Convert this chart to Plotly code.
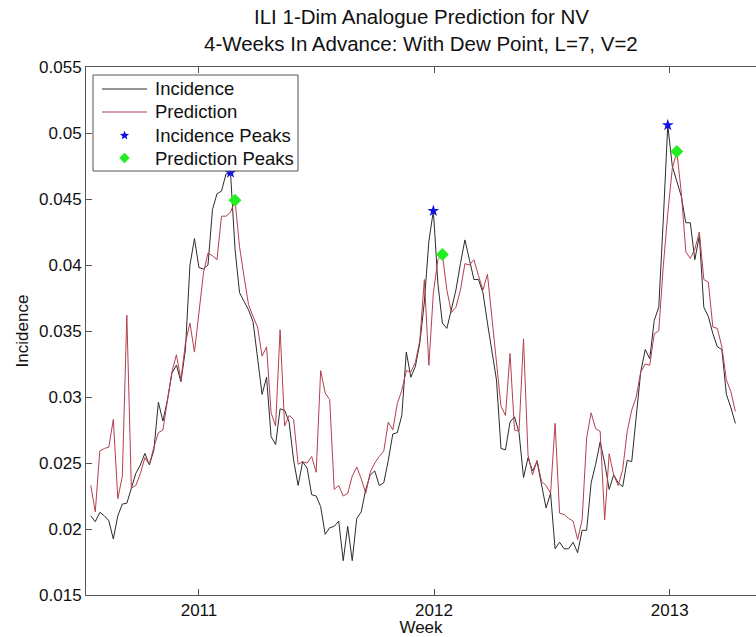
import math
import pandas as pd
import plotly.graph_objects as go

# Weekly ILI incidence for NV and the 4-week-ahead analogue prediction
week_start = "2010-07-17"

incidence = [
    0.0210, 0.02055, 0.02126, 0.0210, 0.02063, 0.01924, 0.0210, 0.02189, 0.02195, 0.02308,
    0.02422, 0.02485, 0.02573, 0.02485, 0.02598, 0.0296, 0.02818, 0.02977, 0.0318, 0.03242,
    0.03116, 0.0336, 0.0400, 0.0420, 0.0398, 0.0397, 0.0400, 0.0442, 0.0454, 0.0456,
    0.0469, 0.0470, 0.0412, 0.0379, 0.0372, 0.0366, 0.0357, 0.0331, 0.0302, 0.0315,
    0.0270, 0.0264, 0.0291, 0.0290, 0.0281, 0.0252, 0.0233, 0.0251, 0.0246, 0.0226,
    0.0225, 0.0217, 0.0196, 0.0201, 0.0202, 0.0206, 0.0176, 0.0202, 0.0176, 0.0208,
    0.0213, 0.0230, 0.0241, 0.0244, 0.0233, 0.0235, 0.0252, 0.0272, 0.0273, 0.0286,
    0.0334, 0.0315, 0.0323, 0.0341, 0.0372, 0.0418, 0.0441, 0.0386, 0.0356, 0.0352,
    0.0366, 0.0381, 0.0401, 0.0419, 0.0404, 0.0389, 0.0389, 0.0379, 0.0356, 0.0336,
    0.0313, 0.0261, 0.0260, 0.0281, 0.0285, 0.0273, 0.0239, 0.0254, 0.0244, 0.0251,
    0.0232, 0.0216, 0.0227, 0.0185, 0.0190, 0.0185, 0.0185, 0.0190, 0.0182, 0.0199,
    0.0199, 0.0235, 0.0249, 0.0266, 0.0250, 0.0230, 0.0241, 0.0235, 0.0232, 0.0252,
    0.0251, 0.0288, 0.0319, 0.0336, 0.0329, 0.0358, 0.0368, 0.0434, 0.0506, 0.0475,
    0.0464, 0.0452, 0.0432, 0.0432, 0.0404, 0.0422, 0.0368, 0.0361, 0.0348, 0.0338,
    0.0336, 0.0302, 0.0292, 0.0280,
]

prediction = [
    0.0233, 0.0213, 0.0259, 0.0261, 0.0262, 0.0283, 0.0223, 0.0240, 0.0362, 0.0231,
    0.0233, 0.0242, 0.0254, 0.0249, 0.0262, 0.0273, 0.0275, 0.0298, 0.0319, 0.0332,
    0.0313, 0.0341, 0.0356, 0.0334, 0.0366, 0.0394, 0.0409, 0.0407, 0.0404, 0.0437,
    0.0437, 0.0440, 0.0449, 0.0414, 0.0391, 0.0370, 0.0361, 0.0353, 0.0331, 0.0338,
    0.0288, 0.0278, 0.0351, 0.0278, 0.0286, 0.0283, 0.0249, 0.0251, 0.0250, 0.0255,
    0.0243, 0.0320, 0.0303, 0.0298, 0.0230, 0.0233, 0.0225, 0.0227, 0.0240, 0.0247,
    0.0238, 0.0227, 0.0243, 0.0250, 0.0255, 0.0259, 0.0281, 0.0275, 0.0295, 0.0305,
    0.0320, 0.0319, 0.0326, 0.0343, 0.0389, 0.0324, 0.0379, 0.0404, 0.0408, 0.0381,
    0.0364, 0.0368, 0.0381, 0.0401, 0.0400, 0.0404, 0.0392, 0.0381, 0.0393, 0.0361,
    0.0326, 0.0293, 0.0286, 0.0333, 0.0275, 0.0274, 0.0344, 0.0256, 0.0241, 0.0252,
    0.0236, 0.0233, 0.0227, 0.0280, 0.0212, 0.0211, 0.0208, 0.0206, 0.0192, 0.0207,
    0.0269, 0.0288, 0.0276, 0.0274, 0.0207, 0.0257, 0.0241, 0.0233, 0.0245, 0.0274,
    0.0290, 0.0300, 0.0319, 0.0325, 0.0324, 0.0348, 0.0350, 0.0399, 0.0439, 0.0473,
    0.0486, 0.0455, 0.0410, 0.0405, 0.0412, 0.0425, 0.0389, 0.0387, 0.0353, 0.0352,
    0.0338, 0.0313, 0.0304, 0.0289,
]

# Week indices of the seasonal maxima
incidence_peak_weeks = [31, 76, 128]
prediction_peak_weeks = [32, 78, 130]

y_ticks = [0.015, 0.02, 0.025, 0.03, 0.035, 0.04, 0.045, 0.05, 0.055]
y_tick_labels = ["0.015", "0.02", "0.025", "0.03", "0.035", "0.04", "0.045", "0.05", "0.055"]
x_tick_dates = ["2011-01-01", "2012-01-01", "2013-01-01"]
x_tick_labels = ["2011", "2012", "2013"]

series_names = ["Incidence", "Prediction", "Incidence Peaks", "Prediction Peaks"]
title_lines = ["ILI 1-Dim Analogue Prediction for NV",
               "4-Weeks In Advance: With Dew Point, L=7, V=2"]

# ---- styling / layout geometry (pixels) ----
W, H = 756, 637
M_L, M_R, M_T, M_B = 86, 0, 67, 42
PLOT_W = W - M_L - M_R
PLOT_H = H - M_T - M_B

FONT = "Liberation Sans, Arial, sans-serif"
TEXT = "#111111"
AXIS = "#555555"
C_INC = "#2b2b2b"
C_PRED = "#b5404f"
C_STAR = "#1010e0"
C_DIAM = "#22ee22"


def px_x(px):
    return (px - M_L) / PLOT_W


def px_y(py):
    return 1 - (py - M_T) / PLOT_H


weeks = pd.date_range(week_start, periods=len(incidence), freq="7D")

fig = go.Figure()
fig.add_trace(go.Scatter(
    x=weeks, y=incidence, mode="lines", name=series_names[0],
    line=dict(color=C_INC, width=1), showlegend=False,
))
fig.add_trace(go.Scatter(
    x=weeks, y=prediction, mode="lines", name=series_names[1],
    line=dict(color=C_PRED, width=1), showlegend=False,
))
fig.add_trace(go.Scatter(
    x=[weeks[i] for i in incidence_peak_weeks],
    y=[incidence[i] for i in incidence_peak_weeks],
    mode="markers", name=series_names[2], showlegend=False,
    marker=dict(symbol="star", color=C_STAR, size=9, line=dict(width=0)),
))
fig.add_trace(go.Scatter(
    x=[weeks[i] for i in prediction_peak_weeks],
    y=[prediction[i] for i in prediction_peak_weeks],
    mode="markers", name=series_names[3], showlegend=False,
    marker=dict(symbol="diamond", color=C_DIAM, size=10, line=dict(width=0)),
))

# ---- boxed legend in the upper-left corner of the axes ----
LEG_X0, LEG_X1, LEG_Y0, LEG_Y1 = 93, 298, 75, 171
ROW_Y = [89, 112, 135.5, 158]
SAMPLE_X0, SAMPLE_X1, TEXT_X = 102, 147, 153
SAMPLE_XC = (SAMPLE_X0 + SAMPLE_X1) / 2

shapes = [dict(
    type="rect", xref="paper", yref="paper", layer="above",
    x0=px_x(LEG_X0), x1=px_x(LEG_X1), y0=px_y(LEG_Y1), y1=px_y(LEG_Y0),
    line=dict(color=AXIS, width=1), fillcolor="white",
)]
for row, color in zip(ROW_Y[:2], [C_INC, C_PRED]):
    shapes.append(dict(
        type="line", xref="paper", yref="paper", layer="above",
        x0=px_x(SAMPLE_X0), x1=px_x(SAMPLE_X1), y0=px_y(row), y1=px_y(row),
        line=dict(color=color, width=1),
    ))


def star_path(r_out, r_in):
    pts = []
    for k in range(10):
        r = r_out if k % 2 == 0 else r_in
        a = math.pi / 2 + k * math.pi / 5
        pts.append((r * math.cos(a), r * math.sin(a)))
    return "M " + " L ".join(f"{x:.2f},{y:.2f}" for x, y in pts) + " Z"


def diamond_path(r):
    return f"M 0,{r} L {r},0 L 0,{-r} L {-r},0 Z"


for row, path, color in [(ROW_Y[2], star_path(4.8, 2.1), C_STAR),
                         (ROW_Y[3], diamond_path(5.2), C_DIAM)]:
    shapes.append(dict(
        type="path", xref="paper", yref="paper", layer="above",
        xsizemode="pixel", ysizemode="pixel",
        xanchor=px_x(SAMPLE_XC), yanchor=px_y(row),
        path=path, fillcolor=color, line=dict(width=0),
    ))

annotations = []
for row, name in zip(ROW_Y, series_names):
    annotations.append(dict(
        text=name, xref="paper", yref="paper", x=px_x(TEXT_X), y=px_y(row),
        xanchor="left", yanchor="middle", showarrow=False,
        font=dict(family=FONT, size=18.5, color=TEXT),
    ))

# ---- two-line title centred on the axes ----
for line, py in zip(title_lines, [17, 43]):
    annotations.append(dict(
        text=line, xref="paper", yref="paper", x=0.5, y=px_y(py),
        xanchor="center", yanchor="middle", showarrow=False,
        font=dict(family=FONT, size=20.5, color=TEXT),
    ))

fig.update_layout(
    width=W, height=H,
    margin=dict(l=M_L, r=M_R, t=M_T, b=M_B, autoexpand=False),
    paper_bgcolor="white", plot_bgcolor="white",
    font=dict(family=FONT, size=17, color=TEXT),
    showlegend=False,
    shapes=shapes,
    annotations=annotations,
)

fig.update_xaxes(
    type="date",
    range=["2010-07-09 14:00", "2013-05-15"],
    tickvals=x_tick_dates, ticktext=x_tick_labels,
    ticks="inside", ticklen=6, tickcolor=AXIS,
    showline=True, linecolor=AXIS, linewidth=1, mirror="ticks",
    showgrid=False, zeroline=False,
    title=dict(text="Week", standoff=9, font=dict(size=17)),
    automargin=False,
)
fig.update_yaxes(
    range=[0.015, 0.055],
    tickvals=y_ticks, ticktext=y_tick_labels,
    ticks="inside", ticklen=6, tickcolor=AXIS,
    showline=True, linecolor=AXIS, linewidth=1,
    showgrid=False, zeroline=False,
    title=dict(text="Incidence", standoff=6, font=dict(size=17)),
    automargin=False,
)

fig.write_html("out.html")
